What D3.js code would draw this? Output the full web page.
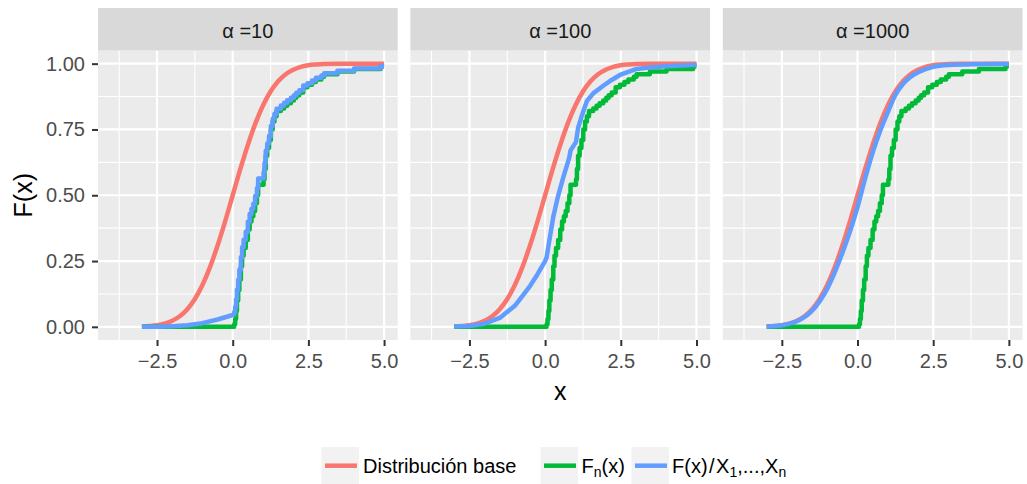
<!DOCTYPE html>
<html><head><meta charset="utf-8">
<script src="https://cdn.jsdelivr.net/npm/d3@7"></script>
<style>
body{margin:0;background:#fff}
svg{display:block}
text{font-family:"Liberation Sans",Arial,Helvetica,sans-serif}
</style></head>
<body><svg id="c" width="1027" height="484"></svg>
<script>
// ---------------- data ----------------
const stripLabels = ["α =10", "α =100", "α =1000"];
const xTicks = [-2.5, 0, 2.5, 5];
const xTickLabels = ["\u22122.5", "0.0", "2.5", "5.0"];
const xMinor = [-3.75, -1.25, 1.25, 3.75];
const yTicks = [0, 0.25, 0.5, 0.75, 1];
const yTickLabels = ["0.00", "0.25", "0.50", "0.75", "1.00"];
const yMinor = [0.125, 0.375, 0.625, 0.875];
const legendLabels = ["Distribución base", "Fn(x)", "F(x)/X1,...,Xn"];

// Distribución base (same in every panel)
const baseX = [-3,-2.75,-2.5,-2.25,-2,-1.75,-1.5,-1.25,-1,-0.75,-0.5,-0.25,0,0.25,0.5,0.75,1,1.25,1.5,1.75,2,2.25,2.5,2.75,3,3.5,4,5];
const baseF = [0.001,0.003,0.006,0.012,0.023,0.040,0.067,0.106,0.159,0.227,0.309,0.401,0.500,0.599,0.691,0.773,0.841,0.894,0.933,0.960,0.977,0.988,0.994,0.997,0.999,1,1,1];

// Fn(x): empirical step function (same in every panel)
const ecdfX = [-3,0.05,0.08,0.11,0.14,0.18,0.22,0.27,0.31,0.36,0.43,0.50,0.56,0.62,0.68,0.74,0.80,0.84,1.02,1.05,1.09,1.14,1.20,1.26,1.32,1.38,1.45,1.59,1.70,1.80,1.92,2.02,2.10,2.20,2.33,2.47,2.62,2.75,2.93,3.02,3.46,4.01,4.89,5.00];
const ecdfF = [0,0.01,0.03,0.06,0.10,0.14,0.18,0.23,0.27,0.30,0.33,0.37,0.40,0.42,0.44,0.47,0.50,0.54,0.56,0.60,0.65,0.68,0.71,0.75,0.78,0.80,0.82,0.83,0.84,0.85,0.86,0.87,0.88,0.89,0.91,0.92,0.93,0.94,0.95,0.96,0.97,0.98,0.99,0.99];

// F(x)/X1..Xn, alpha = 10 : smooth tail, then steps
const post10TailX = [-3,-2.5,-2,-1.5,-1,-0.5,0,0.05];
const post10TailF = [0.0001,0.0006,0.002,0.006,0.014,0.028,0.045,0.047];
const post10StepX = [0.05,0.08,0.11,0.14,0.18,0.22,0.27,0.31,0.36,0.43,0.50,0.56,0.62,0.68,0.74,0.80,0.84,1.02,1.05,1.09,1.14,1.20,1.26,1.32,1.38,1.45,1.59,1.70,1.80,1.92,2.02,2.10,2.20,2.33,2.47,2.62,2.75,2.93,3.02,3.46,4.01,4.89,5.00];
const post10StepF = [0.056,0.075,0.104,0.142,0.179,0.217,0.264,0.302,0.331,0.361,0.399,0.429,0.449,0.468,0.497,0.527,0.564,0.586,0.623,0.669,0.697,0.725,0.763,0.791,0.810,0.829,0.841,0.851,0.861,0.870,0.880,0.889,0.899,0.917,0.926,0.936,0.946,0.955,0.964,0.973,0.982,0.991,0.991];

// alpha = 100
const post100X = [-3,-2.5,-2,-1.5,-1,-0.5,-0.25,0,0.05,0.14,0.27,0.43,0.6,0.8,0.84,1.02,1.09,1.2,1.38,1.59,1.92,2.2,2.47,2.75,3.02,3.46,4.01,4.89,5];
const post100F = [0.001,0.003,0.012,0.034,0.080,0.155,0.200,0.250,0.265,0.328,0.418,0.498,0.568,0.644,0.670,0.703,0.756,0.798,0.858,0.887,0.916,0.938,0.957,0.969,0.980,0.985,0.990,0.995,0.995];

// alpha = 1000
const post1000X = [-3,-2.5,-2,-1.5,-1,-0.5,0,0.25,0.5,0.75,1,1.25,1.5,1.75,2,2.5,3,4,5];
const post1000F = [0.001,0.006,0.021,0.061,0.145,0.281,0.455,0.563,0.662,0.745,0.815,0.881,0.923,0.949,0.967,0.988,0.995,0.998,0.999];

// ---------------- layout ----------------
const colors = {base:"#F8766D", ecdf:"#00BA38", post:"#619CFF"};
const panelLeft = 98, panelW = 299.7, panelGap = 12.7;
const panelTop = 50.5, panelBottom = 340, stripTop = 8;
const panelH = panelBottom - panelTop;
const lineW = 4.5;

const svg = d3.select("#c");
const x = d3.scaleLinear().domain([-4.45, 5.45]).range([0, panelW]);
const y = d3.scaleLinear().domain([-0.05, 1.05]).range([panelH, 0]);

const zip = (xs, ys) => xs.map((v, i) => [v, ys[i]]);
const lineLinear = d3.line().x(d => x(d[0])).y(d => y(d[1]));
const lineSmooth = d3.line().x(d => x(d[0])).y(d => y(d[1])).curve(d3.curveMonotoneX);
const lineStep = d3.line().x(d => x(d[0])).y(d => y(d[1])).curve(d3.curveStepAfter);

const panels = [
  {label: stripLabels[0], post: g => {
      g.append("path").attr("d", lineLinear(zip(post10TailX, post10TailF)) + lineStep(zip(post10StepX, post10StepF)).replace(/^M/, "L"));
  }},
  {label: stripLabels[1], post: g => {
      g.append("path").attr("d", lineLinear(zip(post100X, post100F)));
  }},
  {label: stripLabels[2], post: g => {
      g.append("path").attr("d", lineSmooth(zip(post1000X, post1000F)));
  }}
];

panels.forEach((p, i) => {
  const g = svg.append("g").attr("transform", `translate(${panelLeft + i * (panelW + panelGap)},${panelTop})`);
  g.append("rect").attr("width", panelW).attr("height", panelH).attr("fill", "#EBEBEB");
  // minor grid
  g.selectAll(".xm").data(xMinor).join("line").attr("x1", d => x(d)).attr("x2", d => x(d)).attr("y1", 0).attr("y2", panelH).attr("stroke", "#fff").attr("stroke-width", 1.1);
  g.selectAll(".ym").data(yMinor).join("line").attr("y1", d => y(d)).attr("y2", d => y(d)).attr("x1", 0).attr("x2", panelW).attr("stroke", "#fff").attr("stroke-width", 1.1);
  // major grid
  g.selectAll(".xM").data(xTicks).join("line").attr("x1", d => x(d)).attr("x2", d => x(d)).attr("y1", 0).attr("y2", panelH).attr("stroke", "#fff").attr("stroke-width", 2.2);
  g.selectAll(".yM").data(yTicks).join("line").attr("y1", d => y(d)).attr("y2", d => y(d)).attr("x1", 0).attr("x2", panelW).attr("stroke", "#fff").attr("stroke-width", 2.2);

  const lines = g.append("g").attr("fill", "none").attr("stroke-width", lineW).attr("stroke-linejoin", "round");
  lines.append("path").attr("d", lineSmooth(zip(baseX, baseF))).attr("stroke", colors.base);
  lines.append("path").attr("d", lineStep(zip(ecdfX, ecdfF))).attr("stroke", colors.ecdf);
  const pg = lines.append("g").attr("stroke", colors.post);
  p.post(pg);

  // strip
  g.append("rect").attr("x", 0).attr("y", stripTop - panelTop).attr("width", panelW).attr("height", panelTop - stripTop).attr("fill", "#D9D9D9");
  g.append("text").attr("x", panelW / 2).attr("y", 38.3 - panelTop).attr("text-anchor", "middle")
    .attr("font-size", 20).attr("fill", "#1A1A1A").text(p.label);

  // x axis
  const ax = g.append("g").attr("transform", `translate(0,${panelH})`)
    .call(d3.axisBottom(x).tickValues(xTicks).tickFormat((d, k) => xTickLabels[k]).tickSize(6).tickPadding(8));
  ax.select(".domain").remove();
  ax.selectAll("line").attr("stroke", "#333333").attr("stroke-width", 2);
  ax.selectAll("text").attr("font-size", 20).attr("fill", "#4D4D4D").attr("font-family", "Liberation Sans, Arial, sans-serif");

  if (i === 0) {
    const ay = g.append("g")
      .call(d3.axisLeft(y).tickValues(yTicks).tickFormat((d, k) => yTickLabels[k]).tickSize(6).tickPadding(7));
    ay.select(".domain").remove();
    ay.selectAll("line").attr("stroke", "#333333").attr("stroke-width", 2);
    ay.selectAll("text").attr("font-size", 20).attr("fill", "#4D4D4D").attr("font-family", "Liberation Sans, Arial, sans-serif");
  }
});

// axis titles
const totalW = 3 * panelW + 2 * panelGap;
svg.append("text").attr("x", panelLeft + totalW / 2).attr("y", 400).attr("text-anchor", "middle")
  .attr("font-size", 25).attr("fill", "#000").text("x");
svg.append("text").attr("transform", `translate(31.7,${(panelTop + panelBottom) / 2}) rotate(-90)`)
  .attr("text-anchor", "middle").attr("font-size", 25).attr("fill", "#000").text("F(x)");

// legend
const legY = 465.7, keyW = 37.5, keyTop = 447;
const legendItems = [
  {color: colors.base, keyX: 321.5, textX: 363},
  {color: colors.ecdf, keyX: 540.5, textX: 581.5},
  {color: colors.post, keyX: 631.5, textX: 672}
];
const leg = svg.append("g");
legendItems.forEach((it, k) => {
  leg.append("rect").attr("x", it.keyX).attr("y", keyTop).attr("width", keyW).attr("height", 37).attr("fill", "#F2F2F2");
  leg.append("line").attr("x1", it.keyX + 3.5).attr("x2", it.keyX + keyW - 2).attr("y1", legY).attr("y2", legY)
    .attr("stroke", it.color).attr("stroke-width", lineW);
  const t = leg.append("text").attr("x", it.textX).attr("y", 473.3).attr("font-size", 20).attr("fill", "#000");
  const lab = legendLabels[k];
  if (k === 0) {
    t.text(lab);
  } else if (k === 1) {
    t.append("tspan").text("F");
    t.append("tspan").attr("font-size", 14).attr("dy", 4).text("n");
    t.append("tspan").attr("dy", -4).text("(x)");
  } else {
    t.append("tspan").text("F(x)");
    t.append("tspan").attr("dx", 1.5).text("/");
    t.append("tspan").attr("dx", 1.5).text("X");
    t.append("tspan").attr("font-size", 14).attr("dy", 4).text("1");
    t.append("tspan").attr("dy", -4).text(",...,X");
    t.append("tspan").attr("font-size", 14).attr("dy", 4).text("n");
  }
});
</script></body></html>
